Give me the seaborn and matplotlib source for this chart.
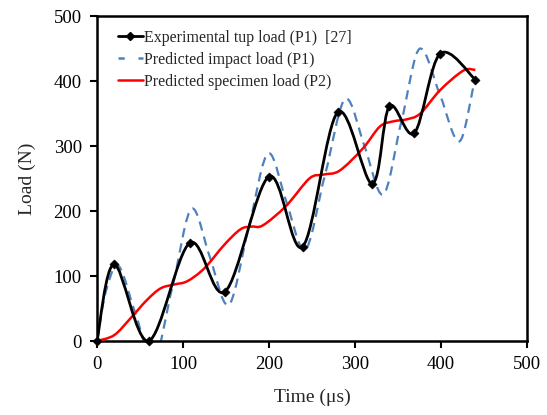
import numpy as np
import matplotlib
matplotlib.use("Agg")
import matplotlib.pyplot as plt
import seaborn as sns
import pandas as pd
from matplotlib.path import Path
from matplotlib.patches import PathPatch
from matplotlib.lines import Line2D

# ---- data ----
exp_time = [0, 20, 60, 108, 149, 200, 239, 280, 320, 340, 369, 399, 440]
exp_load = [0, 118, 0, 151, 76, 253, 145, 352, 242, 361, 320, 442, 402]

imp_time = [0, 10, 23, 44, 65, 88, 111, 131, 152, 176, 200, 220, 241, 265, 290, 311, 332, 354, 376, 399, 421, 440]
imp_load = [0, 75, 117, 45, -30, 85, 204, 130, 55, 172, 289, 215, 140, 255, 373, 300, 225, 338, 450, 378, 307, 405]

spec_time = [0, 20, 39, 58, 74, 90, 105, 125, 148, 167, 180, 193, 220, 247, 263, 282, 309, 329, 345, 360, 376, 399, 426, 440]
spec_load = [0, 9, 35, 63, 81, 87, 92, 112, 148, 172, 176, 178, 208, 250, 256, 262, 296, 330, 338, 341, 350, 386, 416, 417]

x_ticks = [0, 100, 200, 300, 400, 500]
y_ticks = [0, 100, 200, 300, 400, 500]

labels = ["Experimental tup load (P1)  [27]",
          "Predicted impact load (P1)",
          "Predicted specimen load (P2)"]


def catmull_rom_path(x, y):
    p = np.column_stack([x, y]).astype(float)
    n = len(p)
    verts = [p[0]]
    codes = [Path.MOVETO]
    for i in range(n - 1):
        p0 = p[i - 1] if i > 0 else p[i]
        p1 = p[i]
        p2 = p[i + 1]
        p3 = p[i + 2] if i + 2 < n else p[i + 1]
        c1 = p1 + (p2 - p0) / 6.0
        c2 = p2 - (p3 - p1) / 6.0
        verts += [c1, c2, p2]
        codes += [Path.CURVE4] * 3
    return Path(verts, codes)


def pchip_path(x, y):
    x = np.asarray(x, float)
    y = np.asarray(y, float)
    h = np.diff(x)
    d = np.diff(y) / h
    n = len(x)
    m = np.zeros(n)
    for k in range(1, n - 1):
        if d[k - 1] * d[k] <= 0:
            m[k] = 0.0
        else:
            w1 = 2 * h[k] + h[k - 1]
            w2 = h[k] + 2 * h[k - 1]
            m[k] = (w1 + w2) / (w1 / d[k - 1] + w2 / d[k])
    m[0] = d[0]
    m[-1] = d[-1]
    verts = [(x[0], y[0])]
    codes = [Path.MOVETO]
    for k in range(n - 1):
        c1 = (x[k] + h[k] / 3, y[k] + m[k] * h[k] / 3)
        c2 = (x[k + 1] - h[k] / 3, y[k + 1] - m[k + 1] * h[k] / 3)
        verts += [c1, c2, (x[k + 1], y[k + 1])]
        codes += [Path.CURVE4] * 3
    return Path(verts, codes)


sns.set_style("ticks")
plt.rcParams["font.family"] = ["Liberation Serif", "DejaVu Serif"]

fig = plt.figure(figsize=(5.47, 4.15), dpi=100)
ax = fig.add_axes([97 / 547, 1 - 341 / 415, 430 / 547, 325 / 415])

blue = "#4F81BD"
ax.add_patch(PathPatch(catmull_rom_path(spec_time, spec_load), fill=False,
                       edgecolor="#FF0000", lw=1.8, zorder=3))
ax.add_patch(PathPatch(pchip_path(imp_time, imp_load), fill=False,
                       edgecolor=blue, lw=1.6, linestyle=(0, (4.2, 2.8)), zorder=2))
ax.add_patch(PathPatch(catmull_rom_path(exp_time, exp_load), fill=False,
                       edgecolor="black", lw=2.0, zorder=4))

df = pd.DataFrame({"t": exp_time, "load": exp_load})
sns.scatterplot(data=df, x="t", y="load", marker="D", s=22, color="black",
                edgecolor="black", ax=ax, zorder=5, clip_on=False)

ax.set_xlim(0, 500)
ax.set_ylim(0, 500)
ax.set_xticks(x_ticks)
ax.set_yticks(y_ticks)
ax.set_xlabel("Time (μs)", fontsize=14, labelpad=11)
ax.set_ylabel("Load (N)", fontsize=14, labelpad=13)
ax.tick_params(axis="both", direction="out", length=5, width=1.5,
               labelsize=13.5, colors="black", pad=6)
for s in ax.spines.values():
    s.set_visible(True)
    s.set_linewidth(1.8)
    s.set_color("black")

handles = [
    Line2D([], [], color="black", lw=2.0, marker="D", markersize=4.5),
    Line2D([], [], color=blue, lw=1.8, linestyle=(0, (2.5, 5.5))),
    Line2D([], [], color="#FF0000", lw=1.8),
]
ax.legend(handles, labels, loc="upper left", bbox_to_anchor=(0.049, 0.958),
          frameon=False, fontsize=11.5, handlelength=1.55, handletextpad=0.1,
          labelspacing=0.38, borderaxespad=0, borderpad=0, markerfirst=True,
          numpoints=1)

fig.savefig("out.png", dpi=100)
